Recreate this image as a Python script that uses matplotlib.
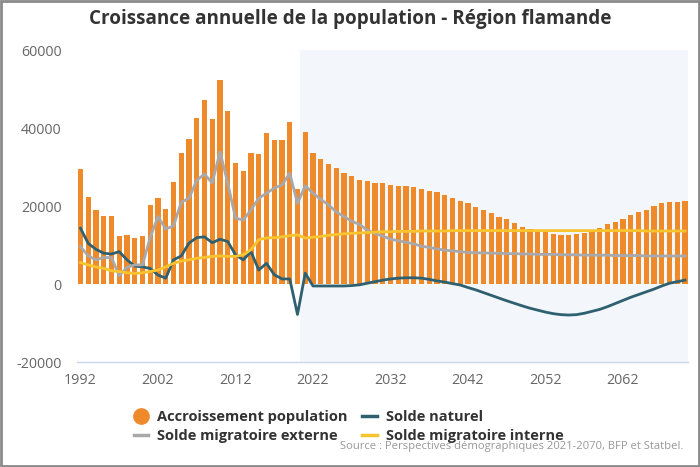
import matplotlib
matplotlib.use("Agg")
import matplotlib.pyplot as plt
from matplotlib.lines import Line2D
from matplotlib.patches import Rectangle

years = list(range(1992, 2071))

accroissement = [
    29500, 22400, 19000, 17500, 17500, 12400, 12700, 11900, 12400, 20300,
    22000, 19200, 26200, 33600, 37200, 42600, 47200, 42300, 52300, 44500,
    31000, 28900, 33700, 33400, 38800, 36900, 36900, 41500, 24400, 39000,
    33700, 32000, 30900, 29800, 28400, 27700, 26700, 26400, 26000, 25800,
    25500, 25200, 25200, 24900, 24300, 23800, 23500, 22800, 22000, 21400,
    20700, 19800, 19000, 18100, 17300, 16600, 15700, 14700, 14100, 13800,
    13400, 12800, 12600, 12600, 12800, 13200, 13600, 14300, 15400, 16000,
    16800, 17700, 18500, 19100, 20000, 20700, 21000, 21100, 21300,
]

solde_naturel = [
    14300, 10400, 8900, 7900, 7700, 8300, 6200, 4600, 4400, 4000,
    2300, 1500, 6200, 7200, 10500, 11900, 12100, 10600, 11500, 10900,
    7500, 6200, 8300, 3600, 5300, 2400, 1300, 1300, -7800, 2800,
    -500, -500, -500, -500, -500, -400, -200, 200, 600, 1000,
    1300, 1500, 1600, 1600, 1500, 1200, 800, 500, 100, -250,
    -900, -1500, -2200, -2900, -3600, -4300, -4950, -5600, -6200, -6700,
    -7200, -7600, -7850, -7950, -7850, -7500, -7000, -6500, -5800, -5000,
    -4200, -3400, -2700, -2000, -1300, -500, 200, 600, 1000,
]

solde_externe = [
    9600, 7200, 6200, 6800, 6800, 2100, 4300, 4900, 4900, 12000,
    17300, 14100, 14900, 21000, 22000, 26600, 28200, 25900, 33900, 25900,
    16900, 16400, 19000, 22000, 23300, 24600, 25400, 28400, 20700, 25200,
    23300, 21700, 20300, 18500, 17300, 16100, 15300, 13800, 13000, 12300,
    11500, 11100, 10700, 10300, 9700, 9400, 9000, 8700, 8500, 8300,
    8100, 8000, 8000, 7900, 7900, 7800, 7800, 7700, 7700, 7600,
    7600, 7600, 7500, 7500, 7500, 7400, 7400, 7400, 7400, 7300,
    7300, 7300, 7300, 7200, 7200, 7200, 7200, 7200, 7200,
]

solde_interne = [
    5500, 4900, 4400, 4000, 3400, 3200, 2900, 2700, 2900, 3200,
    3600, 4400, 5300, 5900, 6200, 6600, 6800, 7100, 7200, 7100,
    7100, 7500, 8800, 11400, 11800, 11900, 12100, 12400, 12600, 11800,
    12000, 12200, 12500, 12700, 12900, 13000, 13100, 13200, 13300, 13400,
    13400, 13500, 13500, 13500, 13600, 13600, 13600, 13600, 13700, 13700,
    13700, 13700, 13700, 13700, 13700, 13700, 13700, 13700, 13700, 13700,
    13700, 13700, 13700, 13700, 13700, 13700, 13700, 13700, 13700, 13700,
    13700, 13700, 13700, 13600, 13600, 13600, 13600, 13600, 13600,
]

xticks = [1992, 2002, 2012, 2022, 2032, 2042, 2052, 2062]
yticks = [-20000, 0, 20000, 40000, 60000]

title = "Croissance annuelle de la population - Région flamande"
labels = ["Accroissement population", "Solde naturel",
          "Solde migratoire externe", "Solde migratoire interne"]
source = "Source : Perspectives démographiques 2021-2070, BFP et Statbel."

c_bar = "#EF8A2B"
c_nat = "#2E6070"
c_ext = "#A8A9AD"
c_int = "#F8C42E"

plt.rcParams['font.family'] = ['Open Sans', 'DejaVu Sans']

fig = plt.figure(figsize=(7.0, 4.67), dpi=100)
fig.patch.set_facecolor("white")
fig.patches.append(Rectangle((0.0015, 0.002), 0.997, 0.996, transform=fig.transFigure,
                             fill=False, edgecolor="#8a8a8a", linewidth=2.0))

ax = fig.add_axes([0.110, 0.2248, 0.873, 0.668])
ax.axvspan(2020.35, 2071, color="#F3F6FA", zorder=0, lw=0)
ax.bar(years, accroissement, width=0.66, color=c_bar, zorder=2)
ax.plot(years, solde_naturel, color=c_nat, lw=2.0, zorder=3)
ax.plot(years, solde_externe, color=c_ext, lw=2.0, zorder=3)
ax.plot(years, solde_interne, color=c_int, lw=2.0, zorder=3)

ax.set_xlim(1991.55, 2070.4)
ax.set_ylim(-20000, 60000)
ax.set_xticks(xticks)
ax.set_xticklabels([str(x) for x in xticks])
ax.set_yticks(yticks)
ax.set_yticklabels([str(y) for y in yticks])
for s in ["top", "right", "left"]:
    ax.spines[s].set_visible(False)
ax.spines["bottom"].set_color("#CCD6EB")
ax.spines["bottom"].set_linewidth(1.0)
ax.tick_params(axis="both", length=0, labelsize=10.3, labelcolor="#666666")
ax.tick_params(axis="x", pad=8)
ax.tick_params(axis="y", pad=11)

fig.text(0.5, 0.959, title, ha="center", va="center", fontsize=13.6,
         fontweight="bold", color="#333333")

handles = [
    Line2D([], [], marker="o", linestyle="none", markersize=11, color=c_bar),
    Line2D([], [], color=c_ext, lw=2.5),
    Line2D([], [], color=c_nat, lw=2.5),
    Line2D([], [], color=c_int, lw=2.5),
]
leg_labels = [labels[0], labels[2], labels[1], labels[3]]
leg = fig.legend(handles, leg_labels, ncol=2, loc="center", bbox_to_anchor=(0.498, 0.087),
                 frameon=False, handlelength=1.0, handletextpad=0.6, columnspacing=1.0,
                 labelspacing=0.35, prop={"weight": "bold", "size": 10.5})
for t in leg.get_texts():
    t.set_color("#333333")

fig.text(0.976, 0.043, source, ha="right", va="center", fontsize=8.1, color="#999999")

fig.savefig("out.png", dpi=100)
